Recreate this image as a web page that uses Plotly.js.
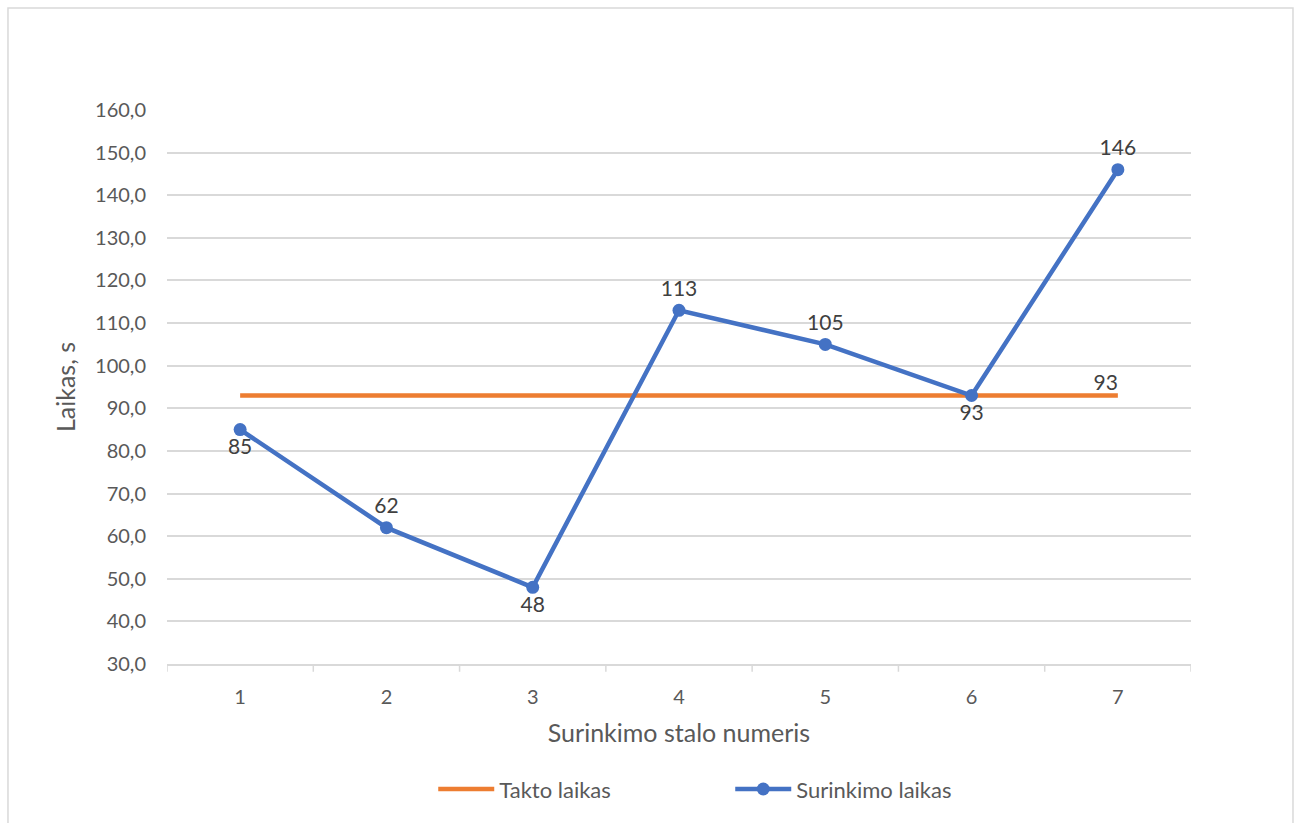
<!DOCTYPE html>
<html>
<head>
<meta charset="utf-8">
<script src="https://cdn.plot.ly/plotly-3.0.1.min.js"></script>
<style>html,body{margin:0;padding:0;background:#fff;}#chart{width:1299px;height:823px;}</style>
</head>
<body>
<div id="chart"></div>
<script>
const categories = [1, 2, 3, 4, 5, 6, 7];
const taktoLaikas = [93, 93, 93, 93, 93, 93, 93];
const surinkimoLaikas = [85, 62, 48, 113, 105, 93, 146];
const surinkimoLabelPos = ['bottom center', 'top center', 'bottom center', 'top center', 'top center', 'bottom center', 'top center'];
const taktoLabels = ['', '', '', '', '', '', '93'];
const yTicks = [30, 40, 50, 60, 70, 80, 90, 100, 110, 120, 130, 140, 150, 160];
const yTickText = yTicks.map(v => v.toFixed(1).replace('.', ','));

const FONT = 'Lato, "Open Sans", sans-serif';
const TXT = '#595959';

const traces = [
  {
    x: categories, y: taktoLaikas, name: 'Takto laikas', type: 'scatter',
    mode: 'lines+text', text: taktoLabels, textposition: 'top left',
    line: {color: '#ED7D31', width: 4.5},
    textfont: {family: FONT, size: 21, color: '#404040'},
    hoverinfo: 'x+y'
  },
  {
    x: categories, y: surinkimoLaikas, name: 'Surinkimo laikas', type: 'scatter',
    mode: 'lines+markers+text', text: surinkimoLaikas.map(String), textposition: surinkimoLabelPos,
    line: {color: '#4472C4', width: 4.5},
    marker: {color: '#4472C4', size: 13},
    textfont: {family: FONT, size: 21, color: '#404040'},
    hoverinfo: 'x+y'
  }
];

const layout = {
  width: 1299, height: 823,
  margin: {l: 167, r: 108, t: 110, b: 159},
  paper_bgcolor: '#fff', plot_bgcolor: '#fff',
  font: {family: FONT, size: 20, color: TXT},
  showlegend: true,
  legend: {orientation: 'h', x: 0.26, xanchor: 'left', y: -0.226, yanchor: 'middle',
           font: {family: FONT, size: 22, color: TXT}, itemwidth: 56,
           entrywidth: 226, entrywidthmode: 'pixels', tracegroupgap: 0},
  xaxis: {
    range: [0.5, 7.5], tickmode: 'array', tickvals: categories, ticktext: categories.map(String),
    showgrid: false, zeroline: false, showline: true, linecolor: '#D9D9D9', linewidth: 1.5,
    ticks: '', ticklabelstandoff: 14, tickfont: {family: FONT, size: 20, color: TXT},
    title: {text: 'Surinkimo stalo numeris', font: {family: FONT, size: 25, color: TXT}, standoff: 18},
    fixedrange: true
  },
  yaxis: {
    range: [30, 160], tickmode: 'array', tickvals: yTicks, ticktext: yTickText,
    showgrid: true, gridcolor: '#D9D9D9', gridwidth: 1.5, zeroline: false, showline: false,
    ticks: '', ticklabelstandoff: 20, tickfont: {family: FONT, size: 20, color: TXT},
    title: {text: 'Laikas, s', font: {family: FONT, size: 25, color: TXT}, standoff: 12},
    fixedrange: true
  },
  shapes: [
    {type: 'rect', xref: 'paper', yref: 'paper', x0: -0.1553, x1: 1.0996, y0: -0.32, y1: 1.1841,
     line: {color: '#D9D9D9', width: 1.5}, fillcolor: 'rgba(0,0,0,0)', layer: 'below'}
  ].concat([0.5, 1.5, 2.5, 3.5, 4.5, 5.5, 6.5, 7.5].map(v => ({
    type: 'line', xref: 'x', yref: 'paper', x0: v, x1: v, y0: 0, y1: -0.014,
    line: {color: '#D9D9D9', width: 1.5}
  })))
};

Plotly.newPlot('chart', traces, layout, {displayModeBar: false});
</script>
</body>
</html>
